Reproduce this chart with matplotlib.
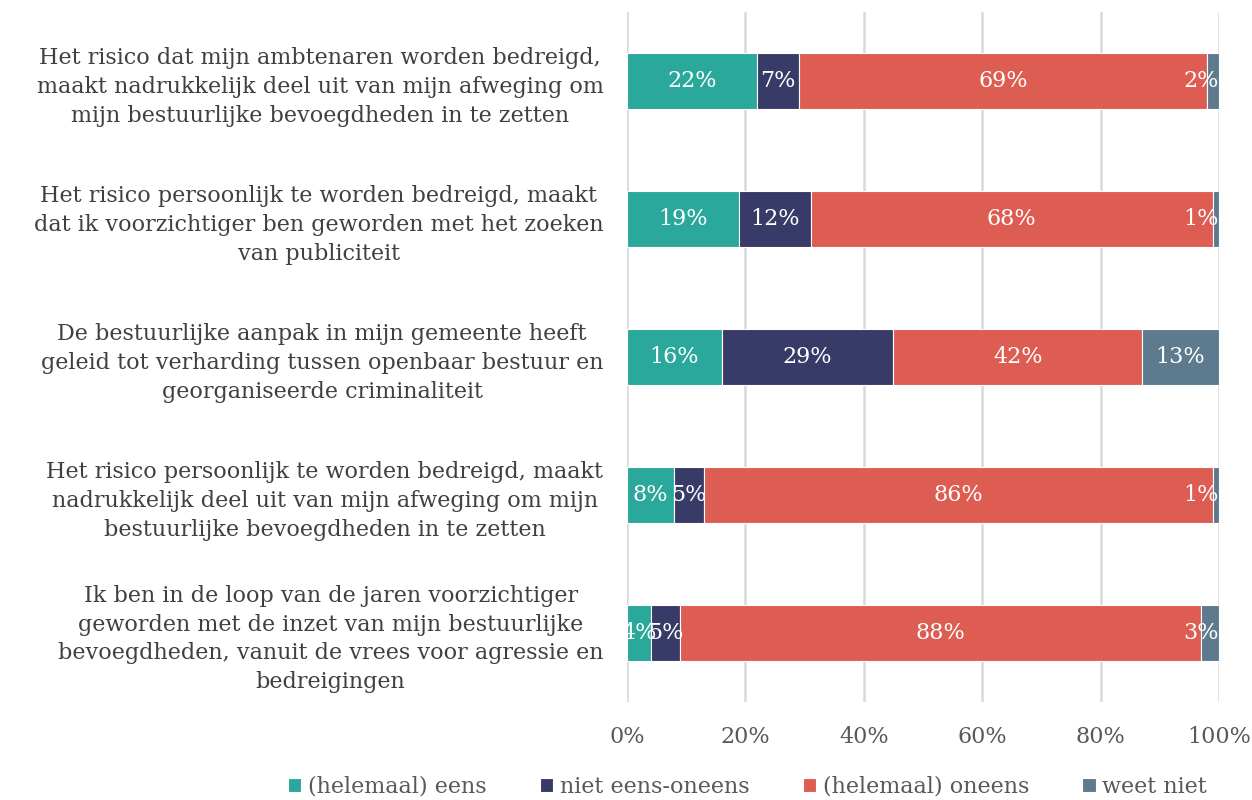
import numpy as np
import matplotlib
matplotlib.use("Agg")
import matplotlib.pyplot as plt

plt.rcParams['font.family'] = ['DejaVu Serif']

statements = [
    "Het risico dat mijn ambtenaren worden bedreigd,\nmaakt nadrukkelijk deel uit van mijn afweging om\nmijn bestuurlijke bevoegdheden in te zetten",
    "Het risico persoonlijk te worden bedreigd, maakt\ndat ik voorzichtiger ben geworden met het zoeken\nvan publiciteit",
    "De bestuurlijke aanpak in mijn gemeente heeft\ngeleid tot verharding tussen openbaar bestuur en\ngeorganiseerde criminaliteit",
    "Het risico persoonlijk te worden bedreigd, maakt\nnadrukkelijk deel uit van mijn afweging om mijn\nbestuurlijke bevoegdheden in te zetten",
    "Ik ben in de loop van de jaren voorzichtiger\ngeworden met de inzet van mijn bestuurlijke\nbevoegdheden, vanuit de vrees voor agressie en\nbedreigingen",
]
series = ["(helemaal) eens", "niet eens-oneens", "(helemaal) oneens", "weet niet"]
eens = [22, 19, 16, 8, 4]
neutraal = [7, 12, 29, 5, 5]
oneens = [69, 68, 42, 86, 88]
weet_niet = [2, 1, 13, 1, 3]
colors = ["#2BA89C", "#383A67", "#DE5D52", "#5E7A8E"]

fig = plt.figure(figsize=(12.52, 8), dpi=100)
ax = fig.add_axes([0.5008, 0.1225, 0.4728, 0.8625])

y = np.arange(len(statements))
left = np.zeros(len(statements))
for name, vals, c in zip(series, [eens, neutraal, oneens, weet_niet], colors):
    vals = np.array(vals, dtype=float)
    ax.barh(y, vals, left=left, height=0.4, color=c, edgecolor="white",
            linewidth=0.8, label=name, zorder=3)
    for yi, l, v in zip(y, left, vals):
        xc = l + v / 2
        ha = "center"
        # keep labels inside the plot area like excel does
        if xc > 97.5:
            xc, ha = 99.9, "right"
        ax.text(xc, yi, "{:.0f}%".format(v), ha=ha, va="center",
                color="white", fontsize=16, zorder=4, clip_on=True)
    left += vals

ax.set_xlim(0, 100)
ax.set_ylim(len(statements) - 0.5, -0.5)
ax.set_xticks(np.arange(0, 101, 20))
ax.set_xticklabels(["{}%".format(t) for t in range(0, 101, 20)])
ax.set_yticks(y)
ax.set_yticklabels(statements, fontsize=16, color="#404040", linespacing=1.4)
for t in ax.get_yticklabels():
    t.set_multialignment("center")
ax.tick_params(axis="x", labelsize=16, labelcolor="#595959", length=0, pad=17)
ax.tick_params(axis="y", length=0, pad=17)
ax.grid(axis="x", color="#D9D9D9", linewidth=1.8, zorder=0)
for s in ax.spines.values():
    s.set_visible(False)

fig.legend(loc="lower center", bbox_to_anchor=(0.597, -0.022), ncol=4,
           frameon=False, fontsize=16, handlelength=0.6, handleheight=0.6,
           handletextpad=0.3, columnspacing=2.4, labelcolor="#595959")

fig.savefig("out.png", dpi=100)
